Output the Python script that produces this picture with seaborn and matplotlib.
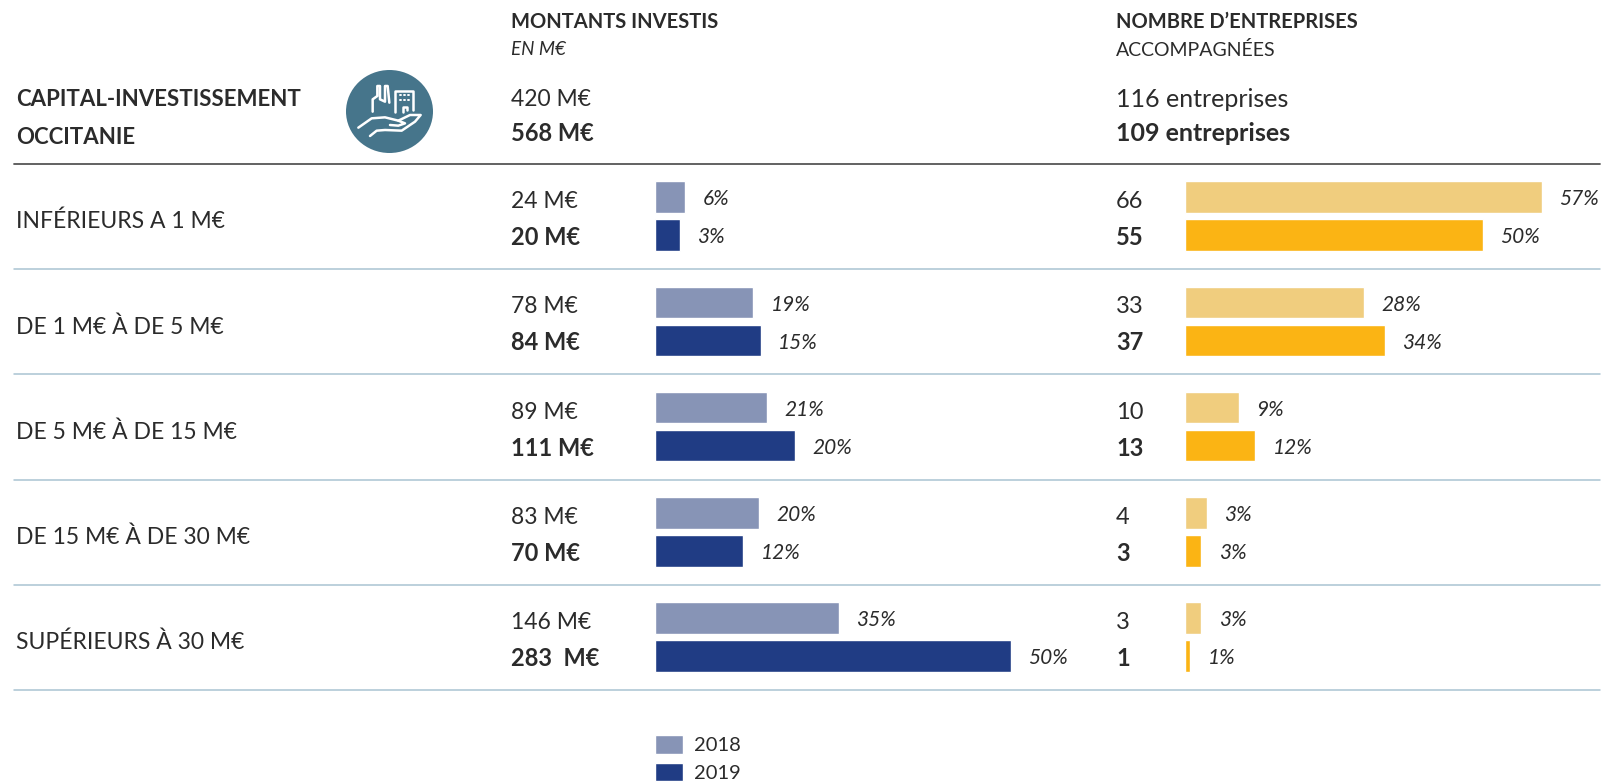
import matplotlib
matplotlib.use('Agg')
import matplotlib.pyplot as plt
from matplotlib.patches import Ellipse
import pandas as pd
import seaborn as sns

categories = ['INFÉRIEURS A 1 M€', 'DE 1 M€ À DE 5 M€', 'DE 5 M€ À DE 15 M€',
              'DE 15 M€ À DE 30 M€', 'SUPÉRIEURS À 30 M€']
years = ['2018', '2019']

montants_2018 = [24, 78, 89, 83, 146]
montants_2019 = [20, 84, 111, 70, 283]
montants_pct_2018 = ['6%', '19%', '21%', '20%', '35%']
montants_pct_2019 = ['3%', '15%', '20%', '12%', '50%']
montants_txt_2019 = ['20 M€', '84 M€', '111 M€', '70 M€', '283  M€']

entreprises_2018 = [66, 33, 10, 4, 3]
entreprises_2019 = [55, 37, 13, 3, 1]
entreprises_pct_2018 = ['57%', '28%', '9%', '3%', '3%']
entreprises_pct_2019 = ['50%', '34%', '12%', '3%', '1%']

COL_BLUE = ['#8794B6', '#203C84']
COL_YELLOW = ['#F0CD7E', '#FBB414']
TEXT = '#2b2b2b'

W, H = 1603, 782
ROW0 = 216.2
ROW_STEP = 105.25


def row_y(i):
    return ROW0 + ROW_STEP * i


def make_df(v18, v19):
    return pd.DataFrame({
        'cat': categories * 2,
        'year': ['2018'] * 5 + ['2019'] * 5,
        'value': v18 + v19,
    })


def bar_panel(fig, left_px, width_px, px_per_unit, df, colors, pct18, pct19):
    top = row_y(-0.5)
    bottom = row_y(4.5)
    ax = fig.add_axes([left_px / W, 1 - bottom / H, width_px / W, (bottom - top) / H])
    ax.patch.set_alpha(0)
    sns.barplot(data=df, x='value', y='cat', hue='year', order=categories,
                hue_order=years, palette=colors, width=0.722, gap=0.17,
                saturation=1, legend=False, ax=ax)
    ax.set_xlim(0, width_px / px_per_unit)
    ax.set_ylim(4.5, -0.5)
    ax.axis('off')
    for cont, labels in zip(ax.containers, [pct18, pct19]):
        texts = ax.bar_label(cont, labels=labels, padding=12.5, fontsize=PCT_SIZE,
                             style='italic', color=TEXT)
        for t in texts:
            t.xyann = (t.xyann[0], t.xyann[1] - 1.5)
    return ax


sns.set_theme(style='white')
plt.rcParams['font.family'] = ['Lato', 'DejaVu Sans']

BODY = 16.5
PCT_SIZE = 15

fig = plt.figure(figsize=(W / 100, H / 100), dpi=100)

# background layer in pixel coordinates: texts, rules, icon
bg = fig.add_axes([0, 0, 1, 1])
bg.set_xlim(0, W)
bg.set_ylim(H, 0)
bg.axis('off')


def txt(x, y, s, size=BODY, weight='normal', style='normal'):
    bg.text(x, y + 2.5, s, fontsize=size, fontweight=weight, fontstyle=style, color=TEXT,
            va='center', ha='left')


X_L, X_R = 511, 1116

txt(X_L, 19, 'MONTANTS INVESTIS', 14.5, 'bold')
txt(X_L, 47, 'EN M€', 13.5, 'normal', 'italic')
txt(X_L, 97, '420 M€')
txt(X_L, 131, '568 M€', 17, 'bold')

txt(X_R, 19, 'NOMBRE D’ENTREPRISES', 14.5, 'bold')
txt(X_R, 47, 'ACCOMPAGNÉES', 14)
txt(X_R, 97, '116 entreprises', 18)
txt(X_R, 131, '109 entreprises', 18, 'bold')

txt(16, 97, 'CAPITAL-INVESTISSEMENT', 16, 'bold')
txt(16, 135, 'OCCITANIE', 16, 'bold')

bg.plot([14, 1600], [164, 164], color='#555555', lw=1.3)
for i in range(5):
    y = row_y(i) + 53
    bg.plot([14, 1600], [y, y], color='#A9C3D2', lw=1.1)

for i, cat in enumerate(categories):
    yc = row_y(i)
    txt(16, yc + 3, cat)
    txt(X_L, yc - 17, f'{montants_2018[i]} M€')
    txt(X_L, yc + 19, montants_txt_2019[i], 17, 'bold')
    txt(X_R, yc - 17, str(entreprises_2018[i]), 17)
    txt(X_R, yc + 19, str(entreprises_2019[i]), 17, 'bold')

# icon: hand holding factory and building
bg.add_patch(Ellipse((389.5, 111.5), 87, 83, color='#46758B', lw=0))


def icon_line(points, lw=1.8):
    bg.plot([330 + p[0] / 3 for p in points], [60 + p[1] / 3 for p in points],
            color='white', lw=lw, solid_capstyle='round', solid_joinstyle='round')


icon_line([(128, 155), (128, 118), (142, 108), (142, 78), (150, 78), (150, 118),
           (165, 125), (165, 78), (173, 78), (178, 128)])
icon_line([(195, 155), (195, 92), (250, 92), (250, 150)])
icon_line([(218, 155), (218, 140), (232, 140), (232, 150)])
for yy in (105, 120):
    for xx in (210, 222, 235):
        icon_line([(xx, yy), (xx + 3, yy)], 1.4)
icon_line([(85, 203), (125, 175), (165, 172), (205, 182), (225, 190), (205, 197), (180, 195)])
icon_line([(205, 182), (240, 165), (272, 165), (255, 185), (215, 212), (165, 210),
           (140, 212), (120, 228)])

# bars
ax_l = bar_panel(fig, 655, 420, 1.258, make_df(montants_2018, montants_2019),
                 COL_BLUE, montants_pct_2018, montants_pct_2019)
ax_r = bar_panel(fig, 1185, 418, 5.41, make_df(entreprises_2018, entreprises_2019),
                 COL_YELLOW, entreprises_pct_2018, entreprises_pct_2019)

# legend, anchored so that the second swatch touches the bottom edge
LEG = 14.5
leg = fig.legend([c[0] for c in ax_l.containers], years, loc='lower left',
                 bbox_to_anchor=(655 / W, 0), bbox_transform=fig.transFigure,
                 frameon=False, fontsize=LEG, borderpad=0, borderaxespad=0,
                 handlelength=28 * 0.72 / LEG, handleheight=1.05,
                 labelspacing=0.42, handletextpad=0.55)
for t in leg.get_texts():
    t.set_color(TEXT)

fig.savefig('out.png', dpi=100)
